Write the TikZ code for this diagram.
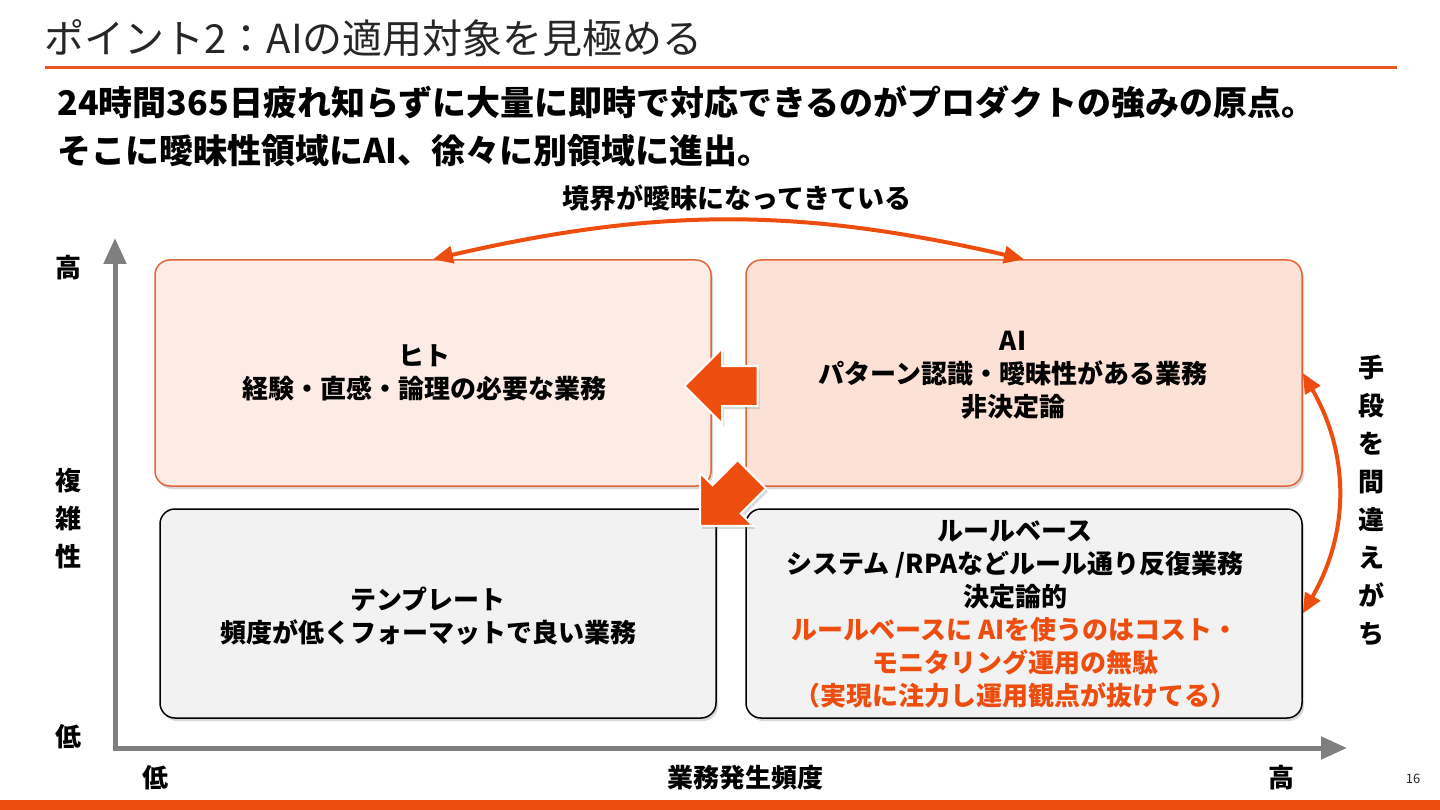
\documentclass[tikz,border=0pt]{standalone}
\usepackage{fontspec}
\setmainfont{Noto Sans CJK JP}
\usepackage{xcolor}
\usepackage{tikz}
\usetikzlibrary{arrows.meta,shapes.arrows,shadows}
\definecolor{hotc}{HTML}{EE4D10}
\definecolor{linec}{HTML}{E8581F}
\definecolor{edgec}{HTML}{E0663A}
\definecolor{peach}{HTML}{FDECE6}
\definecolor{peachd}{HTML}{FCE1D7}
\definecolor{paleg}{HTML}{F2F2F2}
\definecolor{axc}{HTML}{7F7F7F}
\definecolor{inkc}{HTML}{262626}
\tikzset{
  shd/.style={drop shadow={opacity=0.3,shadow xshift=2pt,shadow yshift=-3pt}},
  hbox/.style={draw=edgec,line width=1.5pt,rounded corners=15pt,minimum width=556pt,minimum height=226pt,align=center,shd},
  gbox/.style={draw=black,line width=1.5pt,fill=paleg,rounded corners=15pt,minimum width=556pt,minimum height=209pt,align=center,shd},
  lbl/.style={font=\fontsize{26}{33}\selectfont\bfseries,align=center},
  blk/.style={single arrow,fill=hotc,draw=white,line width=2pt,minimum height=73pt,minimum width=73pt,single arrow head extend=17.5pt,inner xsep=0pt,inner ysep=19pt,shd},
  ar/.style={{Triangle[length=20pt,width=17pt]}-{Triangle[length=20pt,width=17pt]},line width=4pt,hotc},
  ax/.style={{Triangle[length=26pt,width=22pt]}-{Triangle[length=26pt,width=22pt]},line width=5pt,axc}
}
\begin{document}
\begin{tikzpicture}[x=1pt,y=-1pt]
\useasboundingbox (0,0) rectangle (1440,810);
\fill[white] (0,0) rectangle (1440,810);
\node[anchor=west,inkc,font=\fontsize{40}{40}\selectfont] (ttl) at (41,38) {ポイント2：AIの適用対象を見極める};
\draw[linec,line width=3pt] (45,68) -- (1397,68);
\node[anchor=west,font=\fontsize{34}{48}\selectfont\bfseries,align=left] (sub) at (54,126) {24時間365日疲れ知らずに大量に即時で対応できるのがプロダクトの強みの原点。\\そこに曖昧性領域にAI、徐々に別領域に進出。};
\coordinate (o) at (115,748);
\coordinate (ytop) at (115,238);
\coordinate (xend) at (1347,748);
\draw[ax] (ytop) -- (o) -- (xend);
\node[hbox,fill=peach] (tl) at (433,373) {};
\node[hbox,fill=peachd] (tr) at (1024,373) {};
\node[gbox] (bl) at (438,613.5) {};
\node[gbox] (br) at (1024,613.5) {};
\node[lbl] (tltx) at (424,373) {ヒト\\経験・直感・論理の必要な業務};
\node[lbl] (trtx) at (1013,375) {AI\\パターン認識・曖昧性がある業務\\非決定論};
\node[lbl] (bltx) at (428,616) {テンプレート\\頻度が低くフォーマットで良い業務};
\node[lbl] (brtx) at (1015,614) {ルールベース\\システム /RPAなどルール通り反復業務\\決定論的\\\textcolor{hotc}{ルールベースに AIを使うのはコスト・}\\\textcolor{hotc}{モニタリング運用の無駄}\\\textcolor{hotc}{（実現に注力し運用観点が抜けてる）}};
\node[blk,rotate=180] (mvl) at (731,386) {};
\node[blk,rotate=225] (mvd) at (733,493) {};
\node[lbl,font=\fontsize{27}{33}\selectfont\bfseries] (bdr) at (737,198) {境界が曖昧になってきている};
\draw[ar] (tl.north) to[bend left=13] (tr.north);
\draw[ar] (tr.east) to[bend left=30] (br.east);
\node[lbl,font=\fontsize{26}{38}\selectfont\bfseries] (mis) at (1371,501) {手\\段\\を\\間\\違\\え\\が\\ち};
\node[lbl] (yhi) at (68,268) {高};
\node[lbl,font=\fontsize{26}{38}\selectfont\bfseries] (ynm) at (68,519) {複\\雑\\性};
\node[lbl] (ylo) at (68,737) {低};
\node[lbl] (xlo) at (155,778) {低};
\node[lbl] (xnm) at (745,778) {業務発生頻度};
\node[lbl] (xhi) at (1281,778) {高};
\fill[hotc] (0,800) rectangle (1440,810);
\node[inkc,font=\fontsize{13}{13}\selectfont] (pg) at (1413,779) {16};
\end{tikzpicture}
\end{document}
